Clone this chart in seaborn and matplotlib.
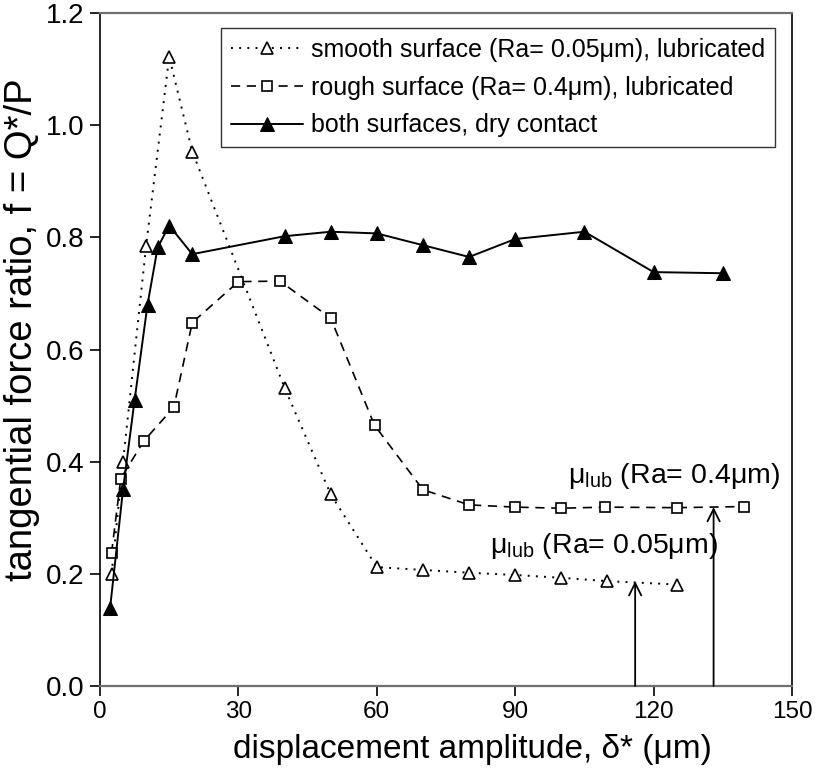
import matplotlib
matplotlib.use("Agg")
import matplotlib.pyplot as plt
import seaborn as sns
import pandas as pd

sns.set_style("white")
plt.rcParams['font.family'] = ['Liberation Sans', 'DejaVu Sans']
plt.rcParams['mathtext.fontset'] = 'custom'
plt.rcParams['mathtext.rm'] = 'Liberation Sans'
plt.rcParams['mathtext.it'] = 'Liberation Sans'
plt.rcParams['text.color'] = 'black'
plt.rcParams['axes.labelcolor'] = 'black'
plt.rcParams['xtick.color'] = 'black'
plt.rcParams['ytick.color'] = 'black'

# Data
smooth_x = [2.5, 5, 10, 15, 20, 40, 50, 60, 70, 80, 90, 100, 110, 125]
smooth_y = [0.20, 0.40, 0.785, 1.122, 0.953, 0.532, 0.342, 0.212, 0.207, 0.202, 0.198, 0.193, 0.187, 0.181]

rough_x = [2.5, 4.5, 9.5, 16, 20, 30, 39, 50, 59.5, 70, 80, 90, 100, 109.5, 125, 139.5]
rough_y = [0.237, 0.370, 0.437, 0.497, 0.648, 0.721, 0.722, 0.656, 0.465, 0.350, 0.323, 0.319, 0.317, 0.319, 0.318, 0.320]

dry_x = [2.2, 5, 7.5, 10.3, 12.5, 15, 20, 40, 50, 60, 70, 80, 90, 105, 120, 135]
dry_y = [0.14, 0.351, 0.510, 0.680, 0.782, 0.821, 0.770, 0.802, 0.810, 0.807, 0.786, 0.765, 0.797, 0.810, 0.738, 0.736]

labels = ["smooth surface (Ra= 0.05μm), lubricated",
          "rough surface (Ra= 0.4μm), lubricated",
          "both surfaces, dry contact"]

arrow_x = [116, 133]
arrow_y = [0.187, 0.319]
ann_text = [r"$\mathregular{μ_{lub}}$ (Ra= 0.05μm)", r"$\mathregular{μ_{lub}}$ (Ra= 0.4μm)"]
ann_pos = [(84.5, 0.25), (101.5, 0.375)]

fig = plt.figure(figsize=(8.15, 7.73), dpi=100)
ax = fig.add_axes([0.1227, 0.1125, 0.8491, 0.8707])

df_s = pd.DataFrame({"x": smooth_x, "y": smooth_y})
df_r = pd.DataFrame({"x": rough_x, "y": rough_y})
df_d = pd.DataFrame({"x": dry_x, "y": dry_y})

sns.lineplot(data=df_s, x="x", y="y", ax=ax, color="black", lw=1.4,
             linestyle=(0, (1, 3.2)), marker="^", markersize=8,
             markerfacecolor="white", markeredgecolor="black", markeredgewidth=1.2,
             label=labels[0])
sns.lineplot(data=df_r, x="x", y="y", ax=ax, color="black", lw=1.2,
             linestyle=(0, (5.5, 4)), marker="s", markersize=7.5,
             markerfacecolor="white", markeredgecolor="black", markeredgewidth=1.2,
             label=labels[1])
sns.lineplot(data=df_d, x="x", y="y", ax=ax, color="black", lw=1.4,
             linestyle="-", marker="^", markersize=9.5,
             markerfacecolor="black", markeredgecolor="black",
             label=labels[2])

for xa, ya in zip(arrow_x, arrow_y):
    ax.annotate("", xy=(xa, ya), xytext=(xa, 0), xycoords="data",
                arrowprops=dict(arrowstyle="->", color="black", lw=1.3,
                                shrinkA=0, shrinkB=0, mutation_scale=22))
for t, (px, py) in zip(ann_text, ann_pos):
    ax.text(px, py, t, fontsize=20.5, ha="left", va="center")

ax.set_xlim(0, 150)
ax.set_ylim(0, 1.2)
ax.set_xticks([0, 30, 60, 90, 120, 150])
ax.set_yticks([0.0, 0.2, 0.4, 0.6, 0.8, 1.0, 1.2])
ax.set_yticklabels([f"{v:.1f}" for v in [0.0, 0.2, 0.4, 0.6, 0.8, 1.0, 1.2]])

for lab in ax.get_xticklabels():
    lab.set_fontsize(17.5)
for lab in ax.get_yticklabels():
    lab.set_fontsize(20)

ax.set_xlabel("displacement amplitude, δ* (μm)", fontsize=24)
ax.set_ylabel("tangential force ratio, f = Q*/P", fontsize=27.5)
ax.xaxis.set_label_coords(0.5376, -0.072)
ax.yaxis.set_label_coords(-0.087, 0.53)

ax.tick_params(axis="both", direction="out", length=7, width=1.2, color="black",
               bottom=True, left=True, pad=4)
for side in ["left", "right"]:
    ax.spines[side].set_color("black")
    ax.spines[side].set_linewidth(1.2)
for side in ["top", "bottom"]:
    ax.spines[side].set_color("#707070")
    ax.spines[side].set_linewidth(1.6)

leg = ax.legend(loc="upper right", bbox_to_anchor=(0.9755, 0.9777), fontsize=18,
                frameon=True, fancybox=False, shadow=False, handlelength=2.9,
                handletextpad=0.3, borderpad=0.4, labelspacing=0.55,
                borderaxespad=0)
leg.get_frame().set_edgecolor("black")
leg.get_frame().set_linewidth(1.0)

fig.savefig("out.png", dpi=100)
